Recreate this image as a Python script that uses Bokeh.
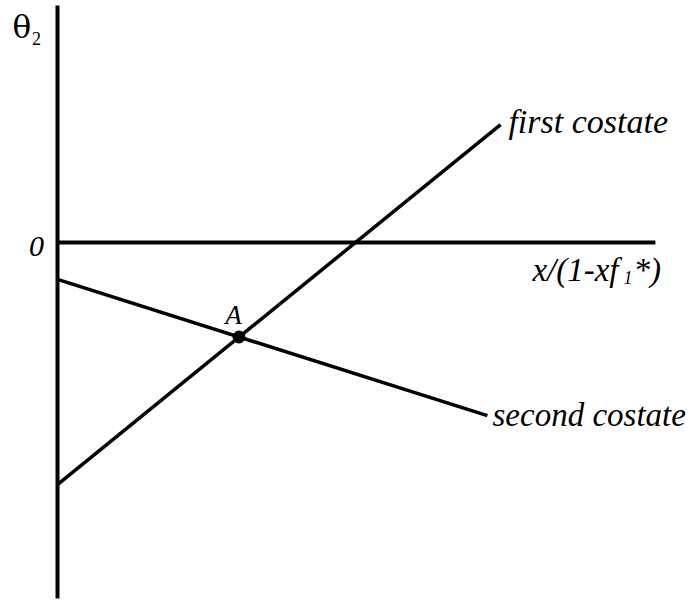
from bokeh.plotting import figure
from bokeh.models import Label
from bokeh.embed import file_html
from bokeh.resources import INLINE

# Axis extents (model units)
axis_x = [0.0, 19.93]
axis_y = [-11.87, 7.9]

# Costate lines: endpoints in model units
first_x = [0.0, 14.77]
first_y = [-8.07, 3.93]
second_x = [0.0, 14.33]
second_y = [-1.23, -5.77]

# Intersection point A
a_x = [6.05]
a_y = [-3.15]

SERIF = "Liberation Serif"

p = figure(width=690, height=605, x_range=(-1.9, 21.1), y_range=(-12.1, 8.067),
           output_backend="svg", toolbar_location=None, min_border=0)
p.axis.visible = False
p.grid.visible = False
p.outline_line_color = None
p.background_fill_color = "white"
p.border_fill_color = "white"

# axes drawn as plain lines
p.line([axis_x[0], axis_x[0]], axis_y, line_color="black", line_width=4)
p.line(axis_x, [0, 0], line_color="black", line_width=4)

p.line(first_x, first_y, line_color="black", line_width=3.5)
p.line(second_x, second_y, line_color="black", line_width=3.5)
p.scatter(a_x, a_y, size=12, color="black")


def lab(x, y, text, size, style="italic", align="left", font=SERIF):
    p.add_layout(Label(x=x, y=y, text=text, text_font=font, text_font_size=f"{size}px",
                       text_font_style=style, text_color="black", text_align=align,
                       text_baseline="alphabetic"))


lab(-1.5, 7.17, "θ", 31, style="normal", font="DejaVu Serif")
lab(-0.85, 6.8, "2", 18, style="normal")
lab(-0.95, -0.13, "0", 30)
lab(a_x[0] - 0.18, -2.42, "A", 27, align="center")
lab(15.03, 4.03, "first costate", 34)
lab(14.5, -5.75, "second costate", 33)
lab(15.83, -0.91, "x/(1-xf", 33)
lab(18.87, -1.17, "1", 18)
lab(19.2, -0.91, "*)", 33)

open("out.html", "w").write(file_html(p, INLINE))
